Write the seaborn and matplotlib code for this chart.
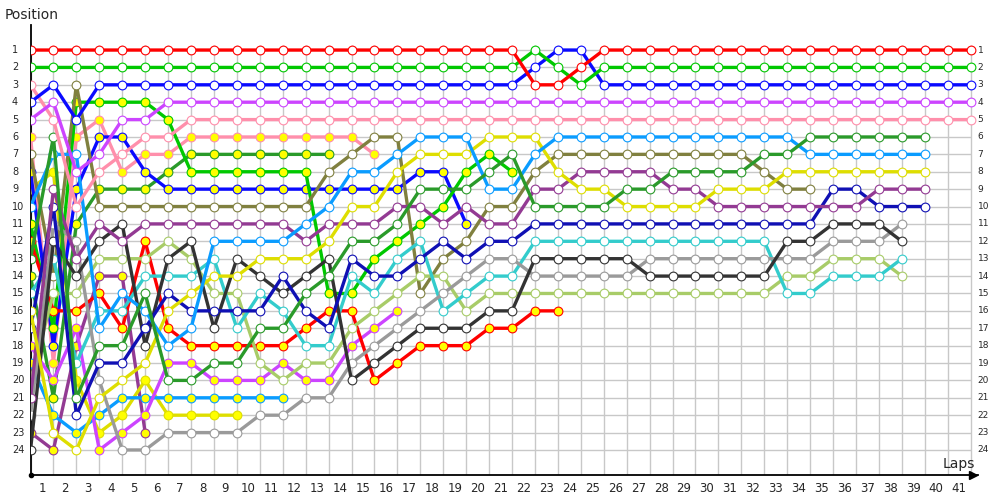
import numpy as np
import pandas as pd
import seaborn as sns
import matplotlib.pyplot as plt

# lap 0 = grid, then laps 1..41; values are race positions
lap_labels = [str(i) for i in range(1, 42)]
pos_labels = [str(i) for i in range(1, 25)]

red_w = [1, 1, 1, 1, 1, 1, 1, 1, 1, 1, 1, 1, 1, 1, 1, 1, 1, 1, 1, 1, 1, 1, 3, 3, 2, 1, 1, 1, 1, 1,
         1, 1, 1, 1, 1, 1, 1, 1, 1, 1, 1, 1]
green_w = [2, 2, 2, 2, 2, 2, 2, 2, 2, 2, 2, 2, 2, 2, 2, 2, 2, 2, 2, 2, 2, 2, 1, 2, 3, 2, 2, 2, 2, 2,
           2, 2, 2, 2, 2, 2, 2, 2, 2, 2, 2, 2]
blue_w = [4, 3, 5, 3, 3, 3, 3, 3, 3, 3, 3, 3, 3, 3, 3, 3, 3, 3, 3, 3, 3, 3, 2, 1, 1, 3, 3, 3, 3, 3,
          3, 3, 3, 3, 3, 3, 3, 3, 3, 3, 3, 3]
violet_w = [5, 4, 8, 7, 5, 5, 4, 4, 4, 4, 4, 4, 4, 4, 4, 4, 4, 4, 4, 4, 4, 4, 4, 4, 4, 4, 4, 4, 4, 4,
            4, 4, 4, 4, 4, 4, 4, 4, 4, 4, 4, 4]
pink_w = [3, 5, 10, 8, 7, 6, 6, 5, 5, 5, 5, 5, 5, 5, 5, 5, 5, 5, 5, 5, 5, 5, 5, 5, 5, 5, 5, 5, 5, 5,
          5, 5, 5, 5, 5, 5, 5, 5, 5, 5, 5, 5]
dgreen_w = [13, 6, 21, 18, 18, 15, 20, 20, 19, 19, 17, 17, 15, 14, 12, 12, 11, 9, 9, 9,
            8, 7, 10, 10, 10, 10, 9, 9, 8, 8, 8, 8, 7, 7, 6, 6, 6, 6, 6, 6]
lblue_w = [10, 7, 7, 17, 15, 16, 18, 17, 12, 12, 12, 12, 11, 10, 8, 8, 7, 6, 6, 6,
           9, 9, 7, 6, 6, 6, 6, 6, 6, 6, 6, 6, 6, 6, 7, 7, 7, 7, 7, 7]
yellow_w = [16, 23, 24, 21, 20, 19, 16, 15, 14, 14, 13, 13, 13, 12, 10, 10, 8, 7, 7, 7,
            6, 6, 6, 8, 9, 9, 10, 10, 10, 10, 9, 9, 9, 8, 8, 8, 8, 8, 8, 8]
purple_w = [21, 9, 13, 11, 12, 11, 11, 11, 11, 11, 11, 11, 12, 11, 11, 11, 10, 10, 11, 10,
            11, 11, 9, 9, 8, 8, 8, 8, 9, 9, 10, 10, 10, 10, 10, 10, 10, 9, 9, 9]
dblue_w = [17, 10, 22, 19, 19, 17, 15, 16, 16, 16, 16, 14, 16, 17, 13, 14, 14, 13, 12, 13,
           12, 12, 11, 11, 11, 11, 11, 11, 11, 11, 11, 11, 11, 11, 11, 9, 9, 10, 10, 10]
black_w = [24, 12, 14, 12, 11, 18, 13, 12, 17, 13, 14, 15, 14, 13, 20, 19, 18, 17, 17, 17,
           16, 16, 13, 13, 13, 13, 13, 14, 14, 14, 14, 14, 14, 12, 12, 11, 11, 11, 12]
gray_w = [22, 11, 12, 20, 24, 24, 23, 23, 23, 23, 22, 22, 21, 21, 19, 18, 17, 16, 15, 14,
          13, 13, 14, 14, 14, 14, 14, 13, 13, 13, 13, 13, 13, 13, 13, 12, 12, 12, 11]
turq_w = [15, 13, 19, 16, 16, 14, 14, 14, 13, 17, 15, 16, 18, 18, 14, 15, 13, 12, 16, 15,
          14, 14, 12, 12, 12, 12, 12, 12, 12, 12, 12, 12, 12, 15, 15, 14, 14, 14, 13]
ygreen_w = [20, 15, 15, 13, 13, 13, 12, 13, 15, 15, 19, 20, 19, 19, 17, 16, 15, 14, 14, 16,
            15, 15, 15, 15, 15, 15, 15, 15, 15, 15, 15, 15, 15, 14, 14, 13, 13, 13, 14]
olive_w = [7, 14, 3, 10, 10, 10, 10, 10, 10, 10, 10, 10, 10, 8, 7, 6, 6, 15, 13, 12,
           10, 10, 8, 7, 7, 7, 7, 7, 7, 7, 7, 7, 8, 9, 9]
red_y = [12, 16, 16, 15, 17, 12, 17, 18, 18, 18, 18, 18, 17, 16, 16, 20, 19, 18, 18, 18,
         17, 17, 16, 16]
green_y = [11, 17, 4, 4, 4, 4, 5, 8, 8, 8, 8, 8, 8, 15, 15, 13, 12, 11, 10, 8, 7, 8]
blue_y = [8, 18, 9, 6, 6, 8, 9, 9, 9, 9, 9, 9, 9, 9, 9, 9, 9, 8, 8, 11]
violet_y = [18, 20, 17, 24, 23, 22, 19, 19, 20, 20, 20, 19, 20, 20, 18, 17, 16]
pink_y = [6, 19, 6, 5, 8, 7, 7, 6, 6, 6, 6, 6, 6, 6, 6, 7]
dgreen_y = [14, 21, 11, 9, 9, 9, 8, 7, 7, 7, 7, 7, 7, 7]
lblue_y = [19, 22, 23, 22, 21, 21, 21, 21, 21, 21, 21, 21]
yellow_y = [9, 8, 20, 23, 22, 20, 22, 22, 22, 22]
purple_y = [23, 24, 18, 14, 14, 23]

PIT = '#ffff00'
drivers = [
    (purple_y, '#933a93', PIT), (yellow_y, '#dede00', PIT), (lblue_y, '#0a9cff', PIT),
    (dgreen_y, '#2a9a2a', PIT), (pink_y, '#ff8fab', PIT), (violet_y, '#cc44ff', PIT),
    (blue_y, '#0a0aff', PIT), (green_y, '#00c800', PIT), (red_y, '#ff0000', PIT),
    (olive_w, '#80803f', 'white'), (ygreen_w, '#a8cc68', 'white'), (turq_w, '#33cccc', 'white'),
    (gray_w, '#9a9a9a', 'white'), (black_w, '#333333', 'white'), (dblue_w, '#1010b4', 'white'),
    (purple_w, '#933a93', 'white'), (yellow_w, '#dede00', 'white'), (lblue_w, '#0a9cff', 'white'),
    (dgreen_w, '#2a9a2a', 'white'), (pink_w, '#ff8fab', 'white'), (violet_w, '#cc44ff', 'white'),
    (blue_w, '#0a0aff', 'white'), (green_w, '#00c800', 'white'), (red_w, '#ff0000', 'white'),
]

sns.set_style('white')
plt.rcParams['font.family'] = ['DejaVu Sans']

fig = plt.figure(figsize=(10, 5), dpi=100)
ax = fig.add_axes([0.0305, 0.05, 0.9475, 0.90])

# grid
ax.vlines(np.arange(0, 42), 0.7, 25.44, color='#c8c8c8', lw=1, zorder=0)
ax.hlines(np.arange(1, 25), 0, 41, color='#c8c8c8', lw=1, zorder=0)

for i, (vals, col, fill) in enumerate(drivers):
    df = pd.DataFrame({'lap': np.arange(len(vals)), 'pos': vals})
    sns.lineplot(data=df, x='lap', y='pos', color=col, lw=2.4, marker='o', markersize=6.3,
                 markerfacecolor=fill, markeredgecolor=col, markeredgewidth=0.8,
                 estimator=None, sort=False, ax=ax, zorder=2 + i)

ax.set_xlim(0, 41.32)
ax.set_ylim(25.44, -0.44)
ax.set_xticks(np.arange(1, 42) - 0.5)
ax.set_xticklabels(lap_labels, fontsize=8.5)
ax.set_yticks([])
ax.tick_params(axis='x', length=0, pad=5)
ax.set_xlabel('')
ax.set_ylabel('')
for s in ['top', 'right']:
    ax.spines[s].set_visible(False)
for s in ['left', 'bottom']:
    ax.spines[s].set_color('black')
    ax.spines[s].set_linewidth(1.3)

for p, lab in enumerate(pos_labels, start=1):
    ax.text(-0.81, p, lab, fontsize=7, ha='left', va='center', clip_on=False)
    ax.text(41.3, p, lab, fontsize=6.5, ha='left', va='center', clip_on=False)

ax.plot([41.12], [25.44], marker='>', color='black', markersize=6, clip_on=False, zorder=40)
ax.plot([0], [25.44], marker='o', color='black', markersize=3, clip_on=False, zorder=40)

fig.text(0.005, 1 - 15 / 500, 'Position', fontsize=10, va='center', ha='left')
fig.text(0.943, 1 - 464 / 500, 'Laps', fontsize=10, va='center', ha='left')

fig.savefig('out.png', dpi=100)
